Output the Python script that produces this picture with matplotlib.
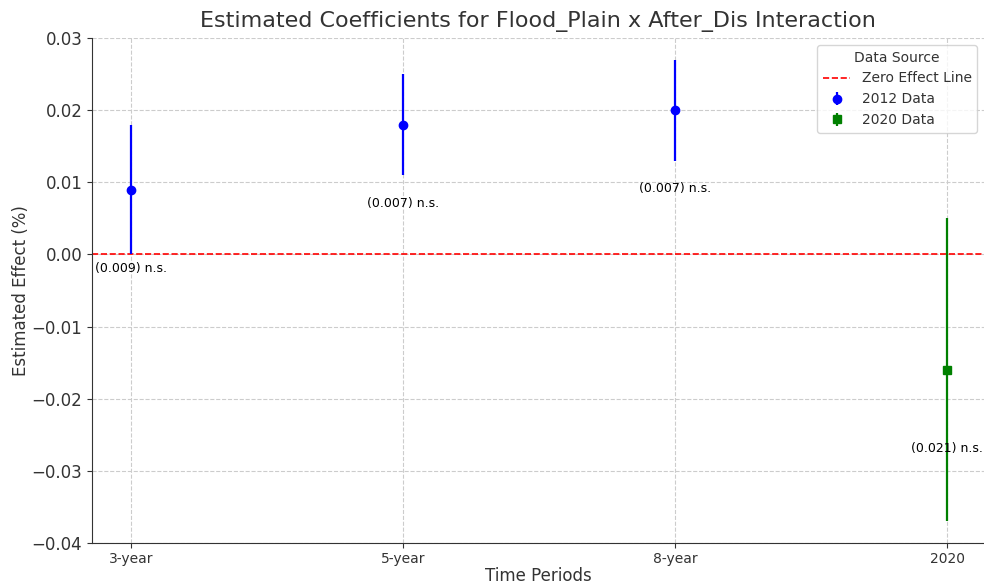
import matplotlib
matplotlib.use("Agg")
import matplotlib.pyplot as plt

periods = ["3-year", "5-year", "8-year", "2020"]
coef_2012 = [0.009, 0.018, 0.020]
se_2012 = [0.009, 0.007, 0.007]
coef_2020 = [-0.016]
se_2020 = [0.021]
labels = ["(0.009) n.s.", "(0.007) n.s.", "(0.007) n.s.", "(0.021) n.s."]

plt.rcParams['font.family'] = ['DejaVu Sans']
txt = '#333333'
fig = plt.figure(figsize=(9.84, 5.85), dpi=100)
ax = fig.add_axes([92/984, 1-543/585, 1-92/984, (543-38)/585])

ax.axhline(0, color='red', linestyle='--', linewidth=1.2, label='Zero Effect Line')
x12 = list(range(3))
ax.errorbar(x12, coef_2012, yerr=se_2012, fmt='o', color='blue', capsize=0,
            elinewidth=1.6, markersize=6, label='2012 Data')
ax.errorbar([3], coef_2020, yerr=se_2020, fmt='s', color='green', capsize=0,
            elinewidth=1.6, markersize=6, label='2020 Data')

coefs = coef_2012 + coef_2020
for i, (c, lab) in enumerate(zip(coefs, labels)):
    ax.text(i, c - 0.01, lab, ha='center', va='top', fontsize=9, color='black')

ax.set_xticks(range(4))
ax.set_xticklabels(periods)
ax.set_xlim(-0.143, 3.136)
ax.set_ylim(-0.04, 0.03)
ax.set_yticks([-0.04, -0.03, -0.02, -0.01, 0.0, 0.01, 0.02, 0.03])
ax.tick_params(axis='y', labelsize=12, colors=txt)
ax.tick_params(axis='x', labelsize=10, colors=txt, pad=3)
ax.grid(True, linestyle='--', color='#cccccc', linewidth=0.8)
ax.set_axisbelow(True)
for s in ['top', 'right']:
    ax.spines[s].set_visible(False)
for s in ['left', 'bottom']:
    ax.spines[s].set_color('#333333')
ax.set_xlabel('Time Periods', fontsize=12, color=txt, labelpad=1)
ax.set_ylabel('Estimated Effect (%)', fontsize=12, color=txt, labelpad=1)
ax.set_title('Estimated Coefficients for Flood_Plain x After_Dis Interaction', fontsize=16, color=txt, pad=8)
leg = ax.legend(title='Data Source', loc='upper right', fontsize=10, title_fontsize=10)
for t in leg.get_texts():
    t.set_color(txt)
leg.get_title().set_color(txt)

fig.savefig('out.png', dpi=100)
